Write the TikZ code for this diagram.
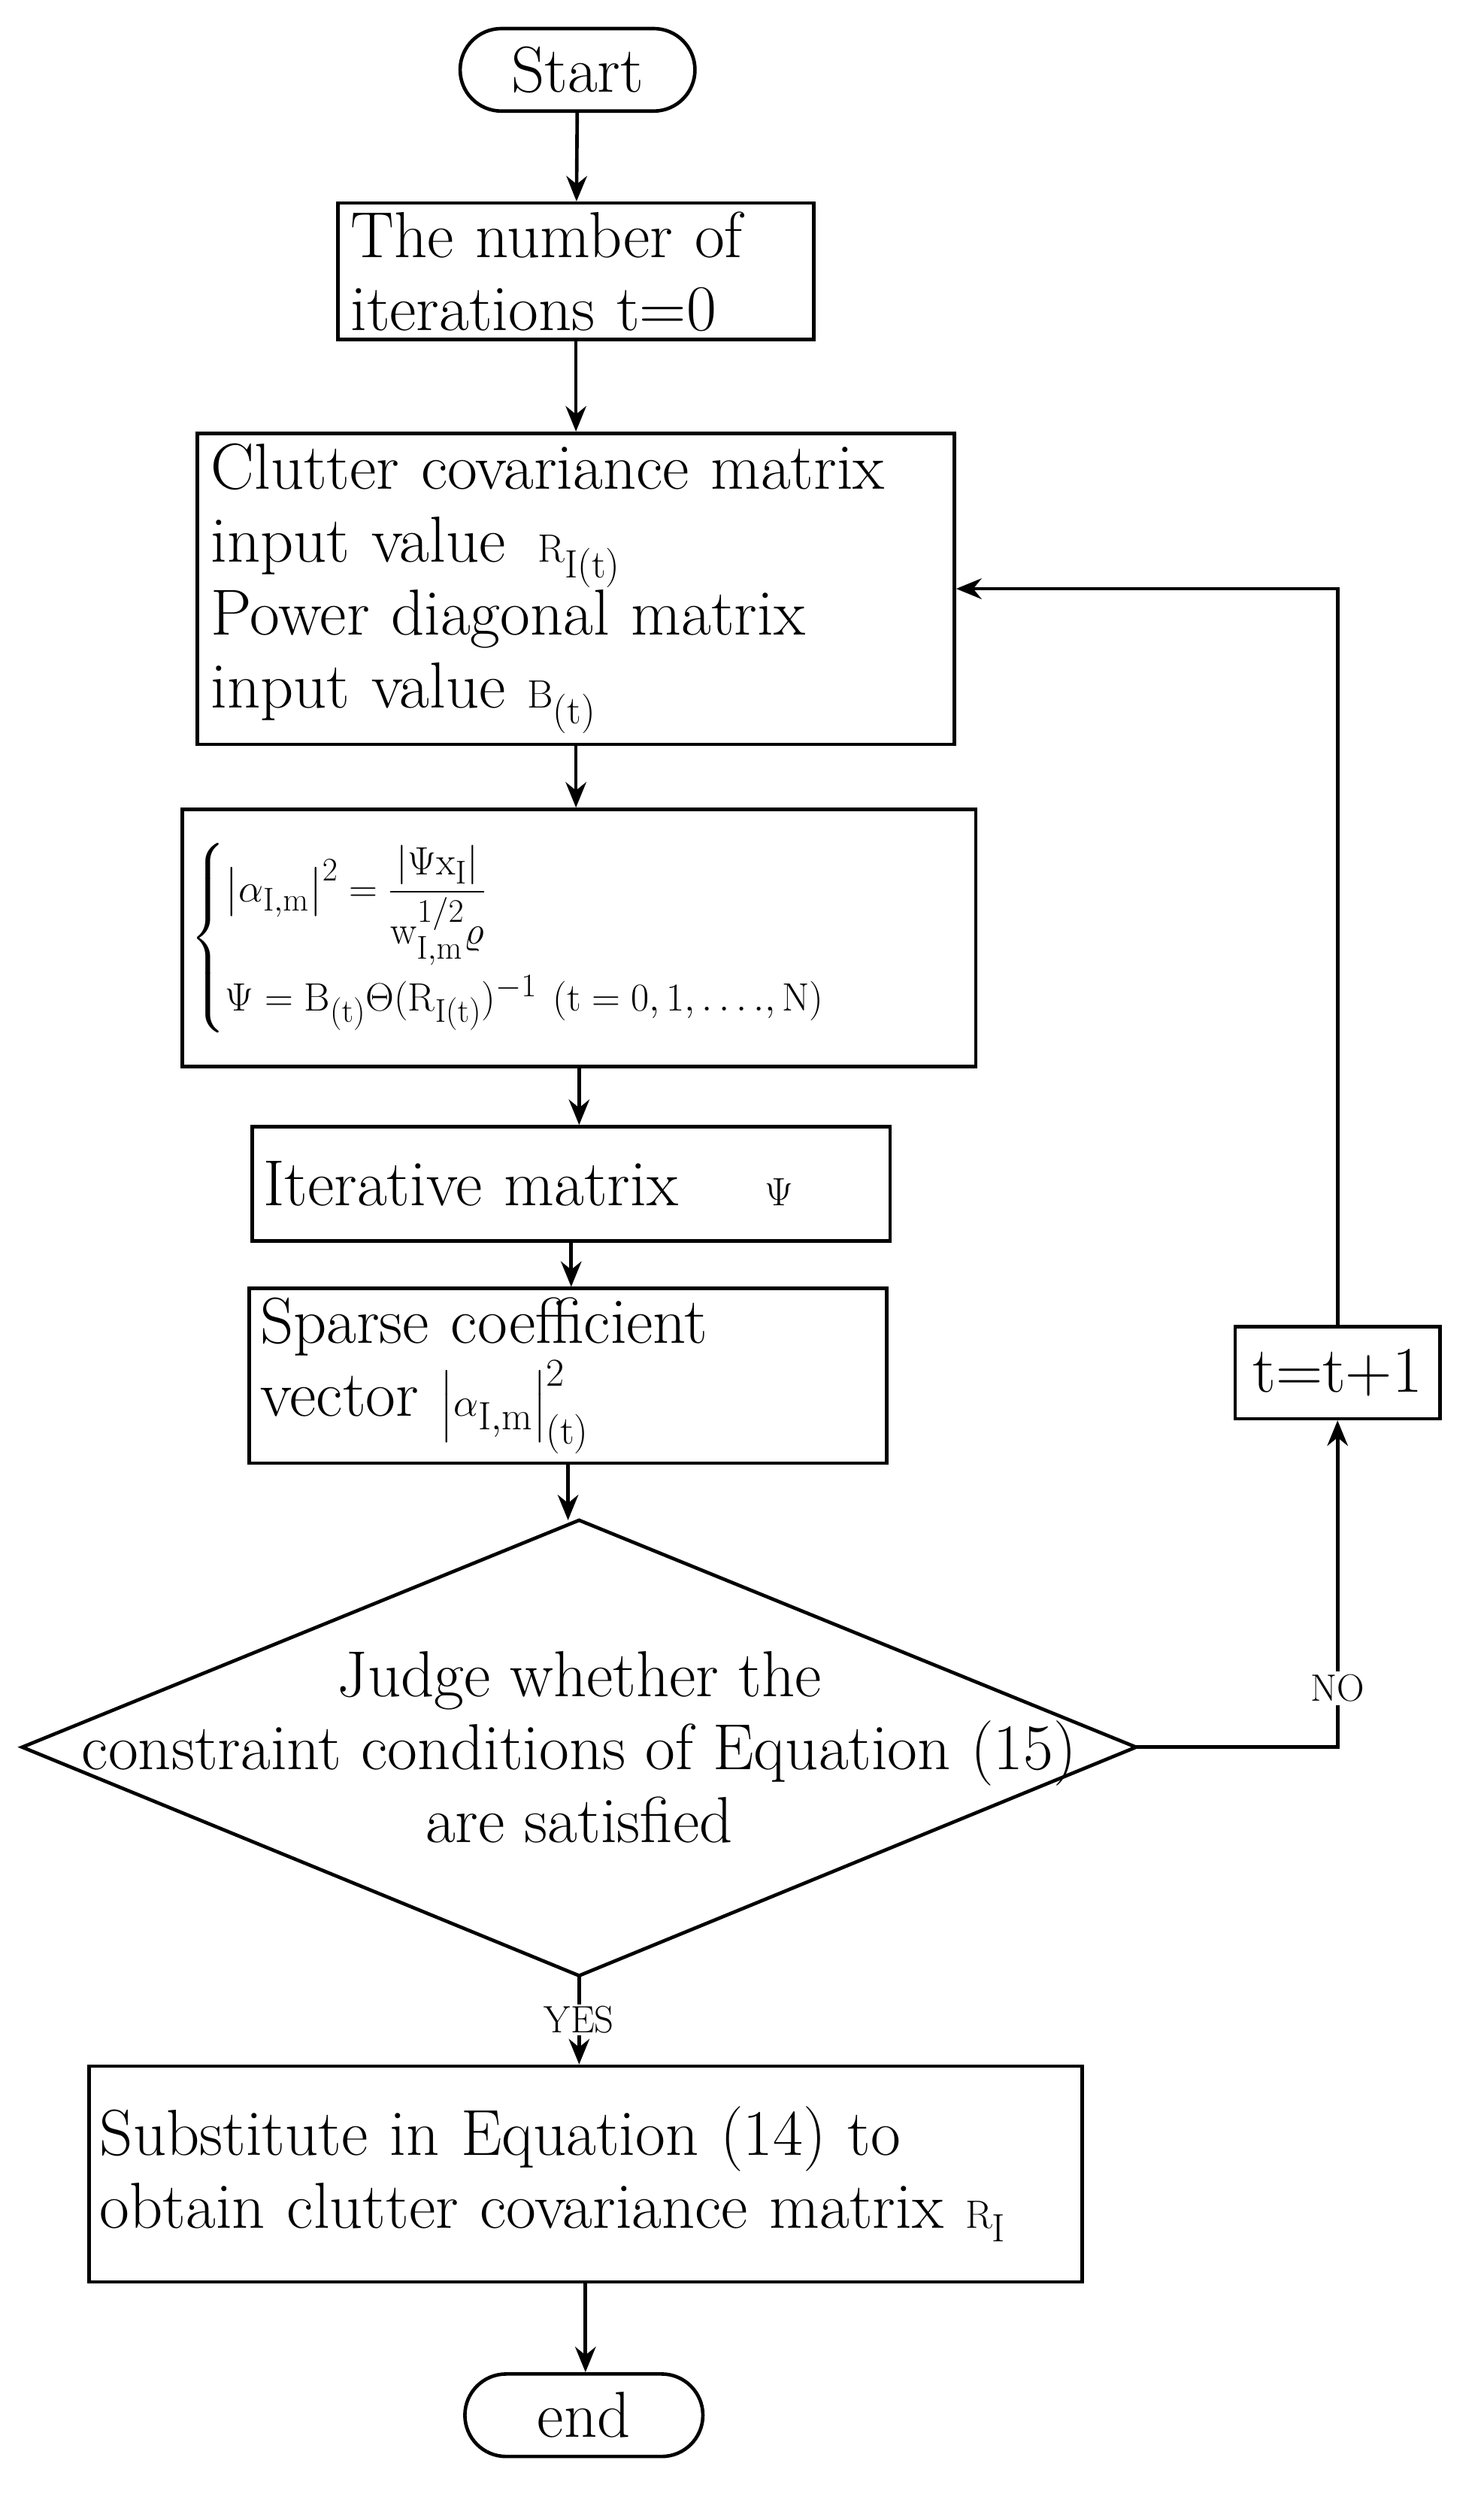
\documentclass[tikz,border=0pt]{standalone}
\usepackage{amsmath}
\usetikzlibrary{shapes.geometric,arrows.meta}
\begin{document}
\begin{tikzpicture}[x=1pt,y=1pt,
  every node/.style={font=\fontsize{41}{46}\selectfont},
  box/.style={draw,line width=2.2pt,inner sep=0pt,align=left},
  term/.style={draw,line width=2.2pt,rounded corners=26pt,minimum height=52pt,inner sep=0pt},
  arr/.style={line width=2.2pt,-{Stealth[length=16pt,width=13pt]}},
  lab/.style={font=\fontsize{24}{28}\selectfont}]
\useasboundingbox (0,0) rectangle (935,-1583);
\node[term,minimum width=148pt] (start) at (364,-44) {Start};
\node[box,minimum width=300pt,minimum height=86pt,text width=284pt] (b1) at (363,-171) {The number of\\iterations t=0};
\node[box,minimum width=477pt,minimum height=196pt,text width=460pt] (b2) at (363,-371) {Clutter covariance matrix\\input value \,$\mathrm{R}_{\mathrm{I(t)}}$\\Power diagonal matrix\\input value $\mathrm{B}_{\mathrm{(t)}}$};
\node[box,minimum width=500pt,minimum height=162pt,text width=490pt,font=\fontsize{30}{34}\selectfont] (b3) at (365,-591) {$\begin{cases}\left|\alpha_{\mathrm{I,m}}\right|^2=\dfrac{\left|\Psi \mathrm{x}_{\mathrm{I}}\right|}{\mathrm{w}_{\mathrm{I,m}}^{1/2}\varrho}\\[18pt]
\Psi=\mathrm{B}_{\mathrm{(t)}}\Theta(\mathrm{R}_{\mathrm{I(t)}})^{-1}\ (\mathrm{t}=0,1,\ldots.,\mathrm{N})\end{cases}$};
\node[box,minimum width=402pt,minimum height=72pt,text width=388pt] (b4) at (360,-746) {Iterative matrix \quad$\Psi$};
\node[box,minimum width=402pt,minimum height=110pt,text width=388pt] (b5) at (358,-867) {Sparse coefficient\\vector $\left|\alpha_{\mathrm{I,m}}\right|^2_{\mathrm{(t)}}$};
\coordinate (dc) at (365,-1101);
\draw[line width=2.2pt] (14,-1101) coordinate (dw) -- (365,-958) coordinate (dn) -- (716,-1101) coordinate (de) -- (365,-1245) coordinate (ds) -- cycle;
\node[align=center] (d) at (dc) {Judge whether the\\constraint conditions of Equation (15)\\are satisfied};
\node[box,minimum width=626pt,minimum height=136pt,text width=612pt] (b6) at (369,-1370) {Substitute in Equation (14) to\\obtain clutter covariance matrix $\mathrm{R}_{\mathrm{I}}$};
\node[term,minimum width=150pt] (end) at (368,-1522) {end};
\node[box,minimum width=129pt,minimum height=58pt,align=center] (t) at (843,-865) {t=t+1};
\coordinate (c1) at (843,-1101);
\coordinate (c2) at (843,-371);
\draw[arr] (start) -- (b1);
\draw[arr] (b1) -- (b2);
\draw[arr] (b2.south) -- (b2.south|-b3.north);
\draw[arr] (b3.south) -- (b3.south|-b4.north);
\draw[arr] (b4.south) -- (b4.south|-b5.north);
\draw[arr] (b5.south) -- (b5.south|-dn);
\draw[arr] (ds) -- node[lab,fill=white,inner sep=1pt,pos=0.5]{YES} (ds|-b6.north);
\draw[arr] (b6.south) -- (b6.south|-end.north);
\draw[arr] (de) -- (c1) -- node[lab,fill=white,inner sep=2pt,pos=0.18]{NO} (t.south);
\draw[arr] (t.north) -- (c2) -- (b2.east);
\end{tikzpicture}
\end{document}
